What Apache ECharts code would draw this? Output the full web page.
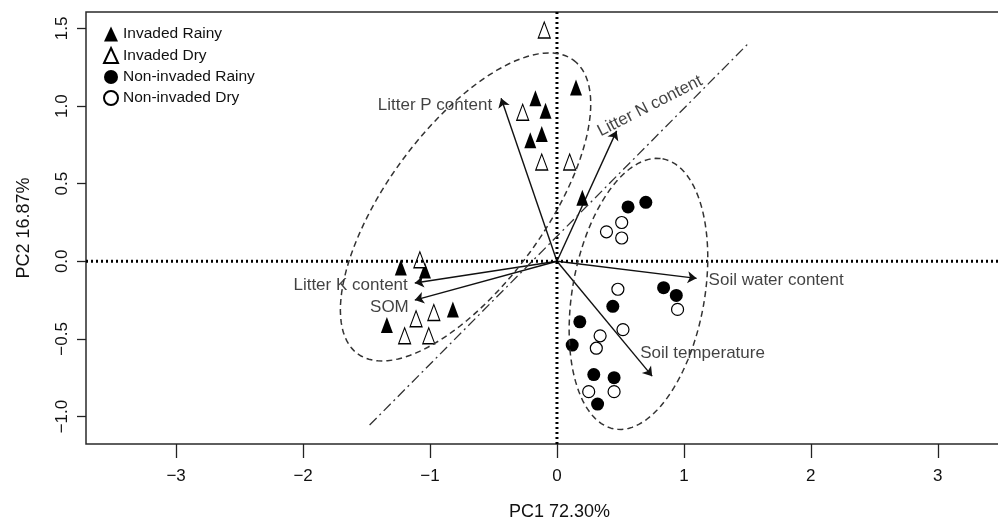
<!DOCTYPE html>
<html>
<head>
<meta charset="utf-8">
<script src="https://cdn.jsdelivr.net/npm/echarts@6/dist/echarts.min.js"></script>
<style>
  html, body { margin: 0; padding: 0; background: #fff; }
  #chart { width: 998px; height: 523px; }
</style>
</head>
<body>
<div id="chart"></div>
<script>
// PCA scores [PC1, PC2]
const invadedRainy = [
  [-0.17, 1.05], [-0.09, 0.97], [-0.21, 0.78], [-0.12, 0.82], [0.15, 1.12],
  [0.20, 0.41], [-1.23, -0.04], [-1.04, -0.06], [-1.34, -0.41], [-0.82, -0.31]
];
const invadedDry = [
  [-0.10, 1.49], [-0.27, 0.96], [-0.12, 0.64], [0.10, 0.64], [-1.08, 0.01],
  [-1.11, -0.37], [-0.97, -0.33], [-1.20, -0.48], [-1.01, -0.48]
];
const nonInvadedRainy = [
  [0.56, 0.35], [0.70, 0.38], [0.84, -0.17], [0.94, -0.22], [0.44, -0.29],
  [0.18, -0.39], [0.12, -0.54], [0.29, -0.73], [0.45, -0.75], [0.32, -0.92]
];
const nonInvadedDry = [
  [0.51, 0.25], [0.39, 0.19], [0.51, 0.15], [0.48, -0.18], [0.34, -0.48],
  [0.31, -0.56], [0.52, -0.44], [0.95, -0.31], [0.25, -0.84], [0.45, -0.84]
];

// variable loadings (arrow tips)
const loadingNames = ['Litter P content', 'Litter N content', 'Litter K content', 'SOM', 'Soil water content', 'Soil temperature'];
const loadingValues = [[-0.44, 1.05], [0.47, 0.84], [-1.12, -0.14], [-1.12, -0.25], [1.10, -0.11], [0.75, -0.74]];

// group ellipses: center, half major axis vector, half minor axis vector
const ellipseInvaded = { center: [-0.72, 0.35], u: [0.850, 0.946], v: [0.50, -0.30] };
const ellipseNonInvaded = { center: [0.642, -0.210], u: [0.190, 0.870], v: [0.512, -0.075] };

// dash-dot separation line
const splitLine = [[-1.476, -1.055], [1.516, 1.41]];

const xTicks = [-3, -2, -1, 0, 1, 2, 3];
const yTicks = [-1.0, -0.5, 0.0, 0.5, 1.0, 1.5];
const xRange = [-3.71, 3.75];
const yRange = [-1.177, 1.606];

function ellipsePoints(e) {
  const pts = [];
  for (let i = 0; i <= 120; i++) {
    const t = (i / 120) * Math.PI * 2;
    pts.push([
      e.center[0] + e.u[0] * Math.cos(t) + e.v[0] * Math.sin(t),
      e.center[1] + e.u[1] * Math.cos(t) + e.v[1] * Math.sin(t)
    ]);
  }
  return pts;
}

const minus = s => String(s).replace('-', '\u2212');
const font = 'Liberation Sans, Arial, sans-serif';

// label placement per arrow
const labelCfg = [
  { position: 'left', distance: 9, offset: [0, 7] },
  { position: 'inside', offset: [41, -7], rotate: 27 },
  { position: 'left', distance: 7, offset: [0, 2] },
  { position: 'left', distance: 6, offset: [0, 7] },
  { position: 'right', distance: 12, offset: [0, 2] },
  { position: 'right', distance: 0, offset: [-12, -23] }
];

const chart = echarts.init(document.getElementById('chart'));
const ellipseStyle = { color: '#333', width: 1.5, type: [6, 4] };

chart.setOption({
  animation: false,
  textStyle: { fontFamily: font, color: '#111' },
  grid: {
    left: 86, top: 12, width: 947, height: 432, outerBoundsMode: 'none', containLabel: false,
    show: true, borderColor: '#2a2a2a', borderWidth: 1.5
  },
  legend: {
    left: 98, top: 21, orient: 'vertical', itemGap: 5, itemWidth: 14, itemHeight: 15,
    textStyle: { fontSize: 15.5, color: '#111', fontFamily: font },
    data: ['Invaded Rainy', 'Invaded Dry', 'Non-invaded Rainy', 'Non-invaded Dry']
  },
  xAxis: {
    type: 'value', min: xRange[0], max: xRange[1],
    name: 'PC1 72.30%', nameLocation: 'middle', nameGap: 59,
    nameTextStyle: { fontSize: 18, color: '#111' },
    axisLine: { show: false, onZero: false },
    splitLine: { show: false },
    axisTick: { show: true, length: 14, inside: false, customValues: xTicks, lineStyle: { color: '#222', width: 1.3 } },
    axisLabel: { customValues: xTicks, margin: 24, fontSize: 17, color: '#111', formatter: v => minus(v) }
  },
  yAxis: {
    type: 'value', min: yRange[0], max: yRange[1],
    name: 'PC2 16.87%', nameLocation: 'middle', nameGap: 53,
    nameTextStyle: { fontSize: 18, color: '#111' },
    axisLine: { show: false, onZero: false },
    splitLine: { show: false },
    axisTick: { show: true, length: 9, customValues: yTicks, lineStyle: { color: '#222', width: 1.3 } },
    axisLabel: { customValues: yTicks, rotate: 90, margin: 15, fontSize: 17, color: '#111', formatter: v => minus(v.toFixed(1)) }
  },
  series: [
    {
      type: 'line', data: [[0, yRange[0]], [0, yRange[1]]], showSymbol: false, silent: true,
      lineStyle: { color: '#000', width: 3, type: [2, 3] }
    },
    {
      type: 'line', data: [[xRange[0], 0], [xRange[1], 0]], showSymbol: false, silent: true,
      lineStyle: { color: '#000', width: 3, type: [2, 3] }
    },
    {
      type: 'line', data: splitLine, showSymbol: false, silent: true,
      lineStyle: { color: '#333', width: 1.3, type: [10, 4, 2, 4] }
    },
    { type: 'line', data: ellipsePoints(ellipseInvaded), showSymbol: false, silent: true, lineStyle: ellipseStyle },
    { type: 'line', data: ellipsePoints(ellipseNonInvaded), showSymbol: false, silent: true, lineStyle: ellipseStyle },
    {
      type: 'lines', coordinateSystem: 'cartesian2d', silent: true,
      symbol: ['none', 'arrow'], symbolSize: 9,
      lineStyle: { color: '#111', width: 1.4, opacity: 1, curveness: 0 },
      data: loadingValues.map(p => ({ coords: [[0, 0], p] }))
    },
    {
      type: 'scatter', symbolSize: 0, silent: true,
      data: loadingValues.map((p, i) => ({
        value: p,
        label: Object.assign({ show: true, formatter: loadingNames[i], fontSize: 17, color: '#111' }, labelCfg[i])
      }))
    },
    {
      name: 'Invaded Rainy', type: 'scatter', symbol: 'triangle', symbolSize: [12, 16],
      itemStyle: { color: '#000', opacity: 1 }, data: invadedRainy
    },
    {
      name: 'Invaded Dry', type: 'scatter', symbol: 'triangle', symbolSize: [12, 16],
      itemStyle: { color: '#fff', borderColor: '#000', borderWidth: 1.2, opacity: 1 }, data: invadedDry
    },
    {
      name: 'Non-invaded Rainy', type: 'scatter', symbol: 'circle', symbolSize: 13,
      itemStyle: { color: '#000', opacity: 1 }, data: nonInvadedRainy
    },
    {
      name: 'Non-invaded Dry', type: 'scatter', symbol: 'circle', symbolSize: 12,
      itemStyle: { color: '#fff', borderColor: '#000', borderWidth: 1.2, opacity: 1 }, data: nonInvadedDry
    }
  ]
});
</script>
</body>
</html>
